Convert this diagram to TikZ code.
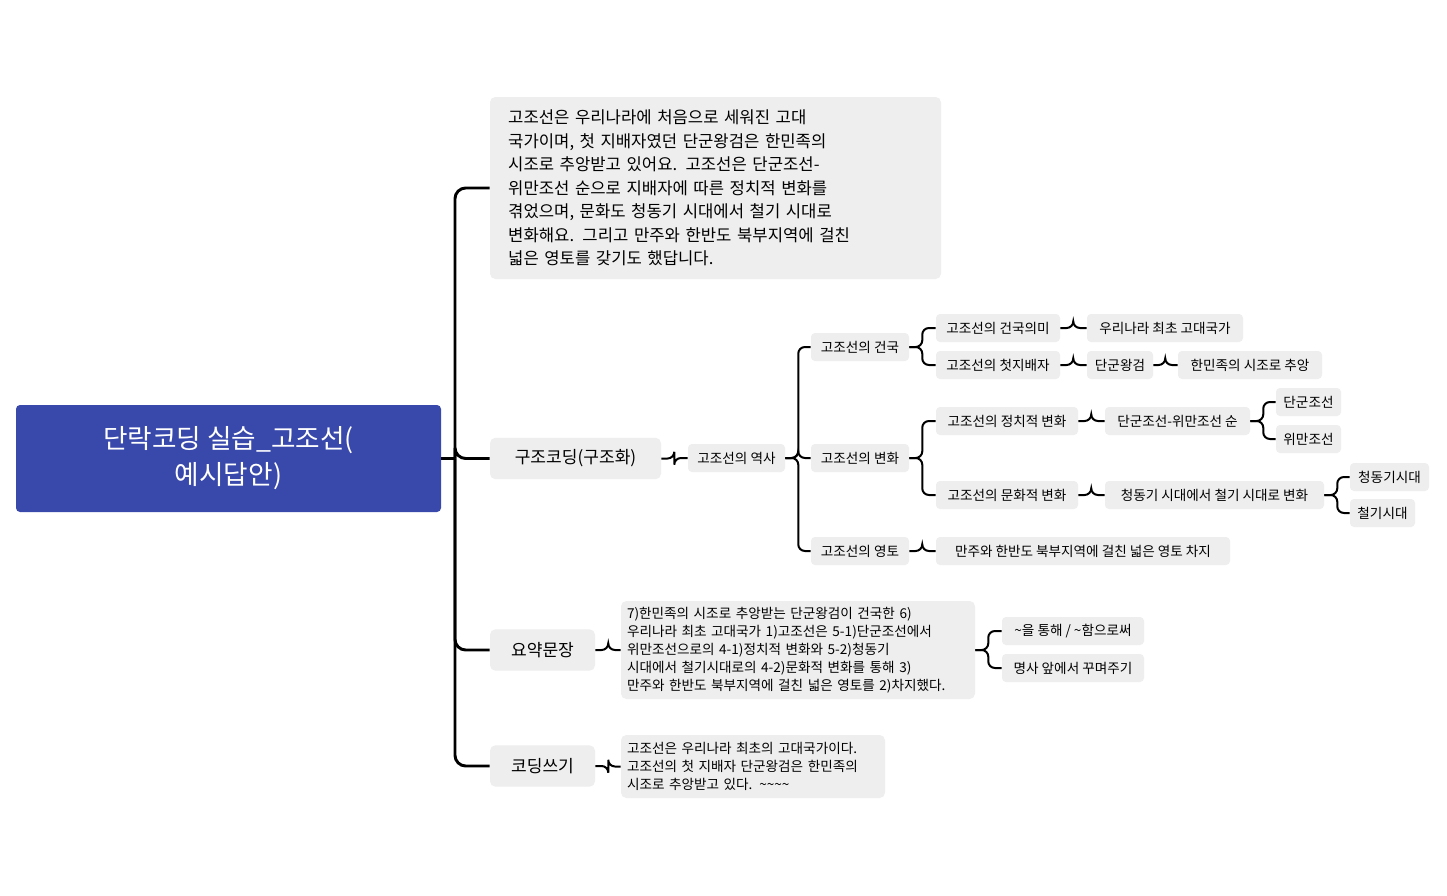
\documentclass[tikz,border=0pt]{standalone}
\usepackage{fontspec}
\setmainfont{Noto Sans CJK KR}
\definecolor{rootblue}{RGB}{57,73,171}
\definecolor{boxgray}{RGB}{238,238,238}
\begin{document}
\begin{tikzpicture}[x=0.75pt,y=-0.75pt,
  sbox/.style={fill=boxgray,rounded corners=3pt,inner sep=0pt,minimum height=21pt,font=\fontsize{10.2}{12}\selectfont},
  mbox/.style={fill=boxgray,rounded corners=4pt,inner sep=0pt,minimum height=31pt,font=\fontsize{12.8}{15}\selectfont},
  tbox/.style={fill=boxgray,rounded corners=4pt,inner ysep=0pt,align=left},
  conn/.style={line width=1.5pt,rounded corners=5pt},
  trunk/.style={line width=2.2pt,rounded corners=8pt}]
\useasboundingbox[fill=white] (0,0) rectangle (1447,896);
\node[fill=rootblue,rounded corners=3pt,minimum width=318.75pt,minimum height=80.25pt,align=center,text=white,font=\fontsize{20}{27}\selectfont] (root) at (228.5,458.5) {단락코딩 실습\_고조선(\\예시답안)};
\node[tbox,minimum width=338.25pt,minimum height=136.5pt,inner xsep=13.5pt,text width=311pt,font=\fontsize{12.5}{17.6}\selectfont] (b1) at (715.5,188) {고조선은 우리나라에 처음으로 세워진 고대\\국가이며, 첫 지배자였던 단군왕검은 한민족의\\시조로 추앙받고 있어요. 고조선은 단군조선-\\위만조선 순으로 지배자에 따른 정치적 변화를\\겪었으며, 문화도 청동기 시대에서 철기 시대로\\변화해요. 그리고 만주와 한반도 북부지역에 걸친\\넓은 영토를 갖기도 했답니다.};
\node[mbox,minimum width=128.25pt] (gj) at (575.5,458.5) {구조코딩(구조화)};
\node[mbox,minimum width=78.75pt] (yy) at (542.5,650) {요약문장};
\node[mbox,minimum width=78.75pt] (cd) at (542.5,766) {코딩쓰기};
\node[sbox,minimum width=72.75pt] (ys) at (736.5,458) {고조선의 역사};
\node[sbox,minimum width=73.5pt] (gk) at (860,347) {고조선의 건국};
\node[sbox,minimum width=73.5pt] (bh) at (860,458) {고조선의 변화};
\node[sbox,minimum width=73.5pt] (yt) at (860,551) {고조선의 영토};
\node[sbox,minimum width=93pt] (gkm) at (998,328) {고조선의 건국의미};
\node[sbox,minimum width=93pt] (cj) at (998,365) {고조선의 첫지배자};
\node[sbox,minimum width=117pt] (chg) at (1165,328) {우리나라 최초 고대국가};
\node[sbox,minimum width=49.5pt] (dg) at (1120,365) {단군왕검};
\node[sbox,minimum width=108pt] (hm) at (1250,365) {한민족의 시조로 추앙};
\node[sbox,minimum width=106.5pt] (jc) at (1007,421) {고조선의 정치적 변화};
\node[sbox,minimum width=106.5pt] (mh) at (1007,495) {고조선의 문화적 변화};
\node[sbox,minimum width=108.75pt] (dw) at (1177.5,421) {단군조선-위만조선 순};
\node[sbox,minimum width=48.75pt] (dj) at (1308.5,402) {단군조선};
\node[sbox,minimum width=48.75pt] (wj) at (1308.5,439) {위만조선};
\node[sbox,minimum width=164.25pt] (cc) at (1214.5,495) {청동기 시대에서 철기 시대로 변화};
\node[sbox,minimum width=59.25pt] (cdg) at (1389.5,477) {청동기시대};
\node[sbox,minimum width=48.75pt] (cg) at (1382.5,513) {철기시대};
\node[sbox,minimum width=220.5pt] (mj) at (1083,551) {만주와 한반도 북부지역에 걸친 넓은 영토 차지};
\node[tbox,minimum width=265.5pt,minimum height=73.5pt,inner xsep=4.5pt,text width=256.5pt,font=\fontsize{10.2}{13.5}\selectfont] (sm) at (798,650) {7)한민족의 시조로 추앙받는 단군왕검이 건국한 6)\\우리나라 최초 고대국가 1)고조선은 5-1)단군조선에서\\위만조선으로의 4-1)정치적 변화와 5-2)청동기\\시대에서 철기시대로의 4-2)문화적 변화를 통해 3)\\만주와 한반도 북부지역에 걸친 넓은 영토를 2)차지했다.};
\node[sbox,minimum width=106.5pt] (tw) at (1073,631) {\textasciitilde 을 통해 / \textasciitilde 함으로써};
\node[sbox,minimum width=106.5pt] (ms) at (1073,668) {명사 앞에서 꾸며주기};
\node[tbox,minimum width=198pt,minimum height=47.25pt,inner xsep=4.5pt,text width=189pt,font=\fontsize{10.2}{13.5}\selectfont] (cw) at (753,766.5) {고조선은 우리나라 최초의 고대국가이다.\\고조선의 첫 지배자 단군왕검은 한민족의\\시조로 추앙받고 있다. \textasciitilde\textasciitilde\textasciitilde\textasciitilde};
% connectors
\coordinate (tr) at (455,458.5);
\draw[trunk] (root.east) -- (tr);
\foreach \n in {b1,gj,yy,cd} \draw[trunk] (tr) |- (\n.west);
\newcommand\brc[3]{\draw[conn] (#1.east) -- ++(#3,0) |- (#2.west);}
\brc{gj}{ys}{13}
\foreach \n in {gk,bh,yt} {\brc{ys}{\n}{13}}
\foreach \n in {gkm,cj} {\brc{gk}{\n}{13}}
\brc{gkm}{chg}{13}
\brc{cj}{dg}{13}
\brc{dg}{hm}{12}
\foreach \n in {jc,mh} {\brc{bh}{\n}{13}}
\brc{jc}{dw}{13}
\brc{mh}{cc}{13}
\foreach \n in {dj,wj} {\brc{dw}{\n}{13}}
\foreach \n in {cdg,cg} {\brc{cc}{\n}{13}}
\brc{yt}{mj}{13}
\brc{yy}{sm}{13}
\foreach \n in {tw,ms} {\brc{sm}{\n}{13}}
\brc{cd}{cw}{13}
\end{tikzpicture}
\end{document}
